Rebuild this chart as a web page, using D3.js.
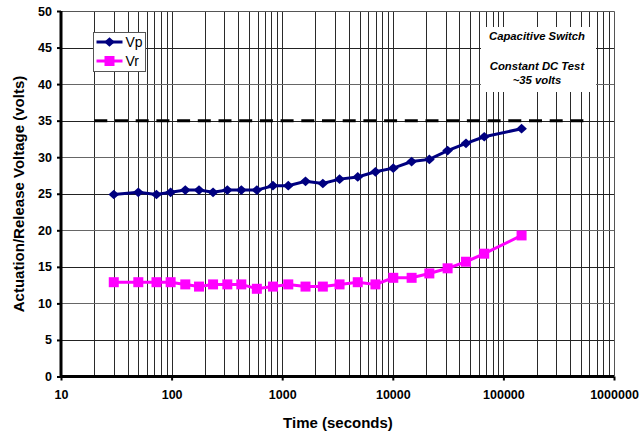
<!DOCTYPE html>
<html>
<head>
<meta charset="utf-8">
<script src="https://cdn.jsdelivr.net/npm/d3@7"></script>
<style>
  body { margin: 0; background: #fff; }
  text { font-family: "Liberation Sans", Arial, sans-serif; }
</style>
</head>
<body>
<div id="chart"></div>
<script>
// data
let times = [30, 50, 73, 98, 133, 177, 237, 319, 427, 590, 825, 1135, 1625, 2330, 3300, 4820, 6970, 10100, 14800, 21400, 31300, 45900, 67100, 146000];
let vp = [24.9, 25.2, 24.9, 25.2, 25.5, 25.5, 25.2, 25.5, 25.5, 25.5, 26.1, 26.1, 26.7, 26.4, 27.0, 27.3, 28.0, 28.5, 29.4, 29.7, 30.9, 31.9, 32.8, 33.9];
let vr = [12.9, 12.9, 12.9, 12.9, 12.6, 12.3, 12.6, 12.6, 12.6, 12.0, 12.3, 12.6, 12.3, 12.3, 12.6, 12.9, 12.6, 13.5, 13.5, 14.1, 14.8, 15.7, 16.8, 19.3];
let xTicks = [10, 100, 1000, 10000, 100000, 1000000];
let yTicks = [0, 5, 10, 15, 20, 25, 30, 35, 40, 45, 50];
let testVoltage = 35;
let testRange = [20, 600000];

let width = 640, height = 434;
let margin = {left: 61, top: 11, right: 26, bottom: 57.5};

let svg = d3.select("#chart").append("svg")
    .attr("width", width)
    .attr("height", height);

let x = d3.scaleLog().domain([10, 1000000]).range([margin.left, width - margin.right]);
let y = d3.scaleLinear().domain([0, 50]).range([height - margin.bottom, margin.top]);

// minor + major log gridlines
let gridX = [];
for (let d = 10; d < 1000000; d *= 10) {
    for (let k = 2; k <= 10; k++) gridX.push(d * k);
}
gridX = gridX.filter(v => v < 1000000);

svg.append("g").selectAll("line.vg")
    .data(gridX)
    .join("line")
    .attr("x1", d => Math.round(x(d)) + 0.5)
    .attr("x2", d => Math.round(x(d)) + 0.5)
    .attr("y1", y(50))
    .attr("y2", y(0))
    .attr("stroke", "#2a2a2a")
    .attr("stroke-width", 1);

svg.append("g").selectAll("line.hg")
    .data(yTicks.filter(d => d > 0))
    .join("line")
    .attr("x1", x(10))
    .attr("x2", x(1000000))
    .attr("y1", d => Math.round(y(d)) + 0.5)
    .attr("y2", d => Math.round(y(d)) + 0.5)
    .attr("stroke", d => d % 10 === 0 ? "#666" : "#222")
    .attr("stroke-width", 1);

// top / right frame
svg.append("path")
    .attr("d", `M${x(10)},${Math.round(y(50)) + 0.5}H${Math.round(x(1000000)) + 0.5}V${y(0)}`)
    .attr("fill", "none")
    .attr("stroke", "#555")
    .attr("stroke-width", 1);

// annotation box (covers the grid)
let noteX = 537;
svg.append("rect")
    .attr("x", 481).attr("y", 27)
    .attr("width", 115).attr("height", 65)
    .attr("fill", "#fff");
let note = svg.append("g")
    .attr("font-size", "11.3px")
    .attr("font-weight", "bold")
    .attr("font-style", "italic")
    .attr("text-anchor", "middle")
    .attr("fill", "#000");
note.append("text").attr("x", noteX).attr("y", 40).text("Capacitive Switch");
note.append("text").attr("x", noteX).attr("y", 70).text("Constant DC Test");
note.append("text").attr("x", noteX).attr("y", 84).text("~35 volts");

// dashed test voltage line
svg.append("line")
    .attr("x1", x(testRange[0]))
    .attr("x2", x(testRange[1]))
    .attr("y1", y(testVoltage))
    .attr("y2", y(testVoltage))
    .attr("stroke", "#000")
    .attr("stroke-width", 3)
    .attr("stroke-dasharray", "13,7.7");

// series
let line = d3.line()
    .x(d => x(d[0]))
    .y(d => y(d[1]));

let vpData = times.map((t, i) => [t, vp[i]]);
let vrData = times.map((t, i) => [t, vr[i]]);

svg.append("path")
    .datum(vrData)
    .attr("d", line)
    .attr("fill", "none")
    .attr("stroke", "#ff00ff")
    .attr("stroke-width", 3);
svg.append("g").selectAll("rect")
    .data(vrData)
    .join("rect")
    .attr("x", d => x(d[0]) - 5)
    .attr("y", d => y(d[1]) - 5)
    .attr("width", 10)
    .attr("height", 10)
    .attr("fill", "#ff00ff");

svg.append("path")
    .datum(vpData)
    .attr("d", line)
    .attr("fill", "none")
    .attr("stroke", "#000080")
    .attr("stroke-width", 3);
let diamond = d3.symbol().type(d3.symbolDiamond2).size(60);
svg.append("g").selectAll("path")
    .data(vpData)
    .join("path")
    .attr("d", diamond)
    .attr("transform", d => `translate(${x(d[0])},${y(d[1])}) scale(1.1,1)`)
    .attr("fill", "#000080");

// axes
let xAxis = d3.axisBottom(x)
    .tickValues(xTicks)
    .tickFormat(d3.format("d"))
    .tickSize(4)
    .tickPadding(10);
let gx = svg.append("g")
    .attr("transform", `translate(0,${y(0)})`)
    .call(xAxis);
gx.select(".domain").attr("stroke-width", 3).attr("d", `M${x(10)},0H${x(1000000)}`);
gx.selectAll(".tick line").attr("stroke-width", 2);
gx.selectAll("text")
    .attr("font-size", "12.5px")
    .attr("font-weight", "bold")
    .attr("font-family", "Liberation Sans, Arial, sans-serif");

let yAxis = d3.axisLeft(y)
    .tickValues(yTicks)
    .tickSize(4)
    .tickPadding(5);
let gy = svg.append("g")
    .attr("transform", `translate(${x(10)},0)`)
    .call(yAxis);
gy.select(".domain").attr("stroke-width", 3).attr("d", `M0,${y(50)}V${y(0)}`);
gy.selectAll(".tick line").attr("stroke-width", 2);
gy.selectAll("text")
    .attr("font-size", "12.5px")
    .attr("font-weight", "bold")
    .attr("font-family", "Liberation Sans, Arial, sans-serif");

// axis titles
svg.append("text")
    .attr("x", 338)
    .attr("y", 428)
    .attr("text-anchor", "middle")
    .attr("font-size", "15px")
    .attr("font-weight", "bold")
    .text("Time (seconds)");
svg.append("text")
    .attr("transform", "translate(24,194) rotate(-90)")
    .attr("text-anchor", "middle")
    .attr("font-size", "15px")
    .attr("font-weight", "bold")
    .text("Actuation/Release Voltage (volts)");

// legend
let legend = svg.append("g").attr("transform", "translate(93.5,32.5)");
legend.append("rect")
    .attr("width", 52).attr("height", 39)
    .attr("fill", "#fff")
    .attr("stroke", "#555")
    .attr("stroke-width", 1);
let items = [{name: "Vp", color: "#000080", shape: "diamond"}, {name: "Vr", color: "#ff00ff", shape: "square"}];
items.forEach((it, i) => {
    let cy = 9.5 + i * 19;
    legend.append("line")
        .attr("x1", 3).attr("x2", 29)
        .attr("y1", cy).attr("y2", cy)
        .attr("stroke", it.color)
        .attr("stroke-width", 3);
    if (it.shape === "diamond") {
        legend.append("path")
            .attr("d", diamond)
            .attr("transform", `translate(16,${cy}) scale(1.1,1)`)
            .attr("fill", it.color);
    } else {
        legend.append("rect")
            .attr("x", 11).attr("y", cy - 5)
            .attr("width", 10).attr("height", 10)
            .attr("fill", it.color);
    }
    legend.append("text")
        .attr("x", 32)
        .attr("y", cy + 5)
        .attr("font-size", "14px")
        .text(it.name);
});
</script>
</body>
</html>
